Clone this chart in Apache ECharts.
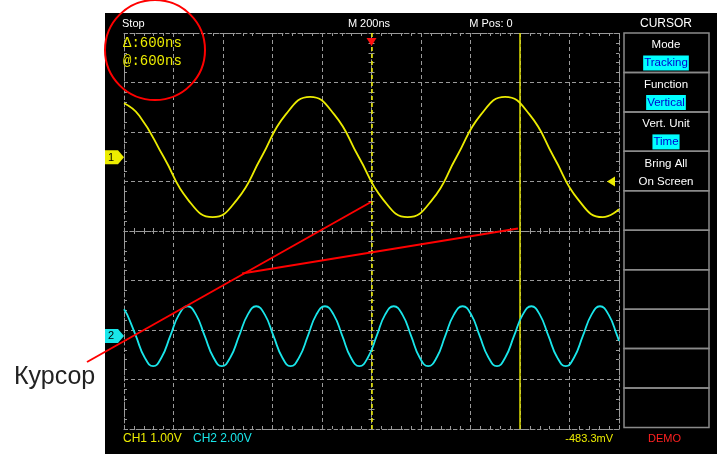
<!DOCTYPE html>
<html>
<head>
    <meta charset="utf-8">
    <title>Cursor</title>
    <script src="https://cdn.jsdelivr.net/npm/echarts@6/dist/echarts.min.js"></script>
    <style type="text/css">
        * { margin: 0; padding: 0; }
        body { background: #fff; }
        #main { width: 721px; height: 454px; }
    </style>
</head>
<body>
<div id="main"></div>
<script type="text/javascript">
    // time base 200 ns/div, 0 = trigger point; vertical values in screen divisions
    var ch1Time = [-1000, -938, -839, -741, -642, -544, -445, -347, -248, -150, -51,
                   48, 146, 245, 343, 442, 540, 639, 737, 836, 934, 1000];
    var ch1Div  = [2.58, 2.33, 1.49, 0.63, 0.28, 0.63, 1.49, 2.35, 2.71, 2.35, 1.49,
                   0.63, 0.28, 0.63, 1.49, 2.35, 2.71, 2.35, 1.49, 0.63, 0.28, 0.44];

    var ch2Time = [-1000, -987, -952, -917, -882, -848, -813, -778, -743, -709, -674, -639,
                   -605, -570, -535, -500, -466, -431, -396, -361, -327, -292, -257, -223,
                   -188, -153, -118, -84, -49, -14, 21, 55, 90, 125, 160, 194,
                   229, 264, 298, 333, 368, 403, 437, 472, 507, 541, 576, 611,
                   646, 680, 715, 750, 785, 819, 854, 889, 923, 958, 993, 1000];
    var ch2Div  = [-1.58,
                   -1.69, -2.12, -2.55, -2.73, -2.55, -2.12, -1.69, -1.52,
                   -1.69, -2.12, -2.55, -2.73, -2.55, -2.12, -1.69, -1.52,
                   -1.69, -2.12, -2.55, -2.73, -2.55, -2.12, -1.69, -1.52,
                   -1.69, -2.12, -2.55, -2.73, -2.55, -2.12, -1.69, -1.52,
                   -1.69, -2.12, -2.55, -2.73, -2.55, -2.12, -1.69, -1.52,
                   -1.69, -2.12, -2.55, -2.73, -2.55, -2.12, -1.69, -1.52,
                   -1.69, -2.12, -2.55, -2.73, -2.55, -2.12, -1.69, -1.52,
                   -1.69, -2.12, -2.22];

    var cursorTime = [0, 600];
    var ch1Offset = 1.49, ch2Offset = -2.12, trigLevel = 1.0;

    var menuTitles = ['Mode', 'Function', 'Vert. Unit', 'Bring All'];
    var menuValues = ['Tracking', 'Vertical', 'Time', 'On Screen'];
    var menuSelected = [true, true, true, false];

    var YEL = '#ecec00', CYAN = '#19e6ea', GRAY = '#9a9a9a';
    var UI = "'Liberation Sans', Arial, sans-serif";

    var myChart = echarts.init(document.getElementById('main'));

    function timeAxis(pos, onZero, inside, split) {
        return {
            type: 'value', min: -1000, max: 1000, interval: 200, position: pos,
            axisLine: { show: true, onZero: onZero, onZeroAxisIndex: 0, lineStyle: { color: GRAY, type: [3, 3] } },
            axisTick: { show: true, inside: inside, length: 3, lineStyle: { color: GRAY } },
            minorTick: { show: true, splitNumber: 5, length: 3, lineStyle: { color: GRAY } },
            axisLabel: { show: false },
            splitLine: { show: split, lineStyle: { color: GRAY, type: [4, 3] } }
        };
    }

    function divAxis(pos, onZero, inside, split) {
        return {
            type: 'value', min: -4, max: 4, interval: 1, position: pos,
            axisLine: { show: true, onZero: onZero, onZeroAxisIndex: 0, lineStyle: { color: GRAY, type: [3, 3] } },
            axisTick: { show: true, inside: inside, length: 3, lineStyle: { color: GRAY } },
            minorTick: { show: true, splitNumber: 5, length: 3, lineStyle: { color: GRAY } },
            axisLabel: { show: false },
            splitLine: { show: split, lineStyle: { color: GRAY, type: [4, 3] } }
        };
    }

    function pairs(xs, ys) {
        return xs.map(function (x, i) { return [x, ys[i]]; });
    }

    var option = {
        animation: false,
        backgroundColor: '#fff',
        grid: { left: 124, right: 102, top: 33, bottom: 25 },
        xAxis: [
            timeAxis('bottom', false, true, true),
            timeAxis('top', false, true, false),
            timeAxis('bottom', true, true, false),
            timeAxis('bottom', true, false, false)
        ],
        yAxis: [
            divAxis('left', false, true, true),
            divAxis('right', false, true, false),
            divAxis('left', true, true, false),
            divAxis('left', true, false, false)
        ],
        series: [
            {
                name: 'CH1', type: 'line', smooth: true, symbol: 'none',
                lineStyle: { color: YEL, width: 1.8 },
                data: pairs(ch1Time, ch1Div),
                z: 5,
                markLine: {
                    silent: true, symbol: ['none', 'none'], label: { show: false },
                    data: cursorTime.map(function (t, i) {
                        return {
                            xAxis: t,
                            lineStyle: { color: i === 0 ? YEL : '#dcdc00', width: 1.5, type: i === 0 ? [4, 3] : 'solid' }
                        };
                    })
                }
            },
            {
                name: 'CH2', type: 'line', smooth: true, symbol: 'none',
                lineStyle: { color: CYAN, width: 1.8 },
                data: pairs(ch2Time, ch2Div),
                z: 5
            }
        ]
    };
    myChart.setOption(option);

    function px(t, v) {
        return myChart.convertToPixel({ xAxisIndex: 0, yAxisIndex: 0 }, [t, v]);
    }

    function txt(s, x, y, color, size, align, family) {
        return {
            type: 'text', z: 20,
            style: {
                text: s, x: x, y: y, fill: color,
                font: size + 'px ' + (family || UI),
                textAlign: align || 'left', textVerticalAlign: 'middle'
            }
        };
    }

    var g = [];
    // scope screen
    g.push({ type: 'rect', z: -10, shape: { x: 105, y: 13, width: 612, height: 441 }, style: { fill: '#000' } });

    // header / footer
    g.push(txt('Stop', 122, 24, '#fff', 11));
    g.push(txt('M 200ns', 369, 24, '#fff', 11, 'center'));
    g.push(txt('M Pos: 0', 491, 24, '#fff', 11, 'center'));
    g.push(txt('CURSOR', 666, 24, '#fff', 12, 'center'));
    g.push(txt('\u0394:600ns', 123, 43, YEL, 14, 'left', "'Liberation Mono', monospace"));
    g.push(txt('@:600ns', 123, 61, YEL, 14, 'left', "'Liberation Mono', monospace"));
    g.push(txt('CH1 1.00V', 123, 439, YEL, 12));
    g.push(txt('CH2 2.00V', 193, 439, CYAN, 12));
    g.push(txt('-483.3mV', 613, 439, YEL, 11, 'right'));
    g.push(txt('DEMO', 648, 439, '#ff2020', 11));

    // side menu
    var rowH = 39.45;
    for (var r = 0; r < 10; r++) {
        g.push({ type: 'rect', z: 10, shape: { x: 624, y: 33 + r * rowH, width: 85, height: rowH },
                 style: { fill: 'none', stroke: '#8a8a8a', lineWidth: 1.5 } });
    }
    menuTitles.forEach(function (t, i) {
        var y0 = 33 + i * rowH;
        g.push(txt(t, 666, y0 + 12, '#fff', 11.5, 'center'));
        var item = txt(menuValues[i], 666, y0 + 30, menuSelected[i] ? '#0000d0' : '#fff', 11.5, 'center');
        if (menuSelected[i]) {
            item.style.backgroundColor = '#00ffff';
            item.style.padding = [2, 1, 1, 1];
        }
        g.push(item);
    });

    // channel ground markers
    [[ch1Offset, YEL, '1'], [ch2Offset, CYAN, '2']].forEach(function (m) {
        var p = px(-1000, m[0]);
        var y = p[1];
        g.push({ type: 'polygon', z: 20, shape: { points: [[105, y - 7], [118, y - 7], [124, y], [118, y + 7], [105, y + 7]] },
                 style: { fill: m[1] } });
        g.push(txt(m[2], 111, y + 0.5, '#000', 11, 'center'));
    });

    // trigger level and trigger position markers
    var tl = px(1000, trigLevel);
    g.push({ type: 'polygon', z: 20, shape: { points: [[tl[0] - 12, tl[1]], [tl[0] - 4, tl[1] - 5], [tl[0] - 4, tl[1] + 5]] },
             style: { fill: YEL } });
    var tp = px(0, 4);
    g.push({ type: 'polygon', z: 20, shape: { points: [[tp[0] - 5, tp[1] + 5], [tp[0] + 5, tp[1] + 5], [tp[0], tp[1] + 13]] },
             style: { fill: '#ff1010' } });

    // red annotation drawn over the screenshot
    g.push({ type: 'circle', z: 30, shape: { cx: 155, cy: 50, r: 50 }, style: { fill: 'none', stroke: '#ff0000', lineWidth: 2 } });
    g.push({ type: 'polyline', z: 30, shape: { points: [[87, 362], [371, 202]] }, style: { stroke: '#ff0000', lineWidth: 2, fill: null } });
    g.push({ type: 'polyline', z: 30, shape: { points: [[242, 273.5], [518, 228.5]] }, style: { stroke: '#ff0000', lineWidth: 2, fill: null } });
    g.push(txt('\u041a\u0443\u0440\u0441\u043e\u0440', 14, 377, '#222', 25));

    myChart.setOption({ graphic: g });

    window.addEventListener('resize', function () {
        myChart.resize();
    });
</script>
</body>
</html>
